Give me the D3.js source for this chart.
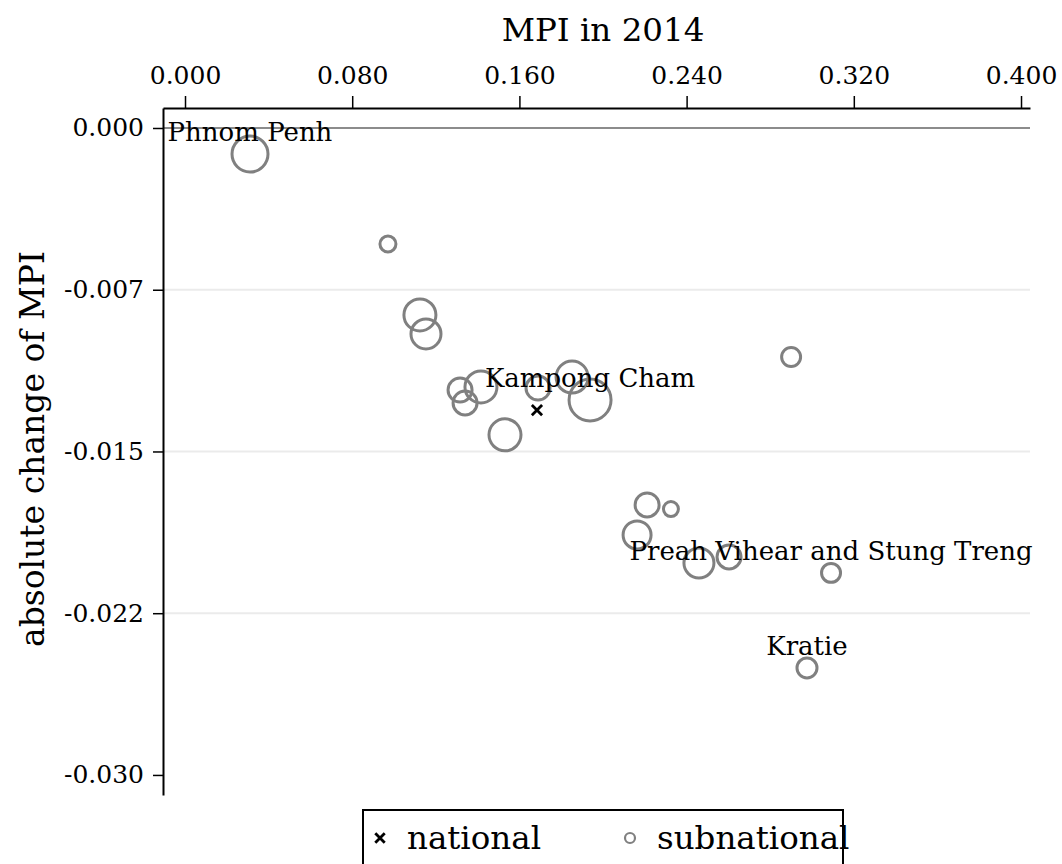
<!DOCTYPE html>
<html>
<head>
<meta charset="utf-8">
<script src="https://cdn.jsdelivr.net/npm/d3@7"></script>
<style>
  html, body { margin: 0; padding: 0; background: #fff; }
  svg text { font-family: "DejaVu Serif", serif; }
</style>
</head>
<body>
<svg id="chart" width="1062" height="864"></svg>
<script>
// ---- data ----
const regions = ["Phnom Penh", "R2", "R3", "R4", "R5", "R6", "R7", "R8", "R9", "Kampong Cham", "R11", "R12", "R13", "R14", "R15", "R16", "R17", "Preah Vihear and Stung Treng", "Kratie"];
const mpi2014 = [0.0311, 0.0971, 0.1124, 0.1153, 0.1316, 0.1340, 0.1416, 0.1689, 0.1852, 0.1938, 0.1531, 0.2211, 0.2325, 0.2163, 0.2459, 0.2603, 0.2900, 0.3091, 0.2976];
const mpiChange = [-0.00121, -0.00538, -0.00867, -0.00955, -0.01215, -0.01275, -0.01201, -0.01206, -0.01155, -0.01261, -0.01423, -0.01748, -0.01767, -0.01887, -0.02017, -0.01989, -0.01062, -0.02063, -0.02504];
const popWeight = [324, 64, 256, 225, 144, 144, 256, 144, 256, 441, 256, 144, 56, 196, 225, 144, 90, 90, 100];
const labelled = ["Phnom Penh", "Kampong Cham", "Preah Vihear and Stung Treng", "Kratie"];
const nationalMPI = [0.1684];
const nationalChange = [-0.01308];
const xTickValues = [0, 0.08, 0.16, 0.24, 0.32, 0.40];
const xTickLabels = ["0.000", "0.080", "0.160", "0.240", "0.320", "0.400"];
const yTickValues = [0, -0.0075, -0.015, -0.0225, -0.03];
const yTickLabels = ["0.000", "-0.007", "-0.015", "-0.022", "-0.030"];
const legendLabels = ["national", "subnational"];

const points = regions.map((name, i) => ({ name, x: mpi2014[i], y: mpiChange[i], w: popWeight[i] }));

const svg = d3.select("#chart");
const x = d3.scaleLinear().domain([-0.01053, 0.4043]).range([163, 1030]);
const y = d3.scaleLinear().domain([0.000927, -0.03093]).range([108, 795]);
const r = d3.scaleSqrt().domain([0, d3.max(popWeight)]).range([0, 21]);

// gridlines
svg.append("g").selectAll("line")
  .data(yTickValues.filter(v => v !== 0 && v !== -0.03))
  .join("line")
  .attr("x1", x.range()[0]).attr("x2", x.range()[1])
  .attr("y1", d => y(d)).attr("y2", d => y(d))
  .attr("stroke", "#ebebeb").attr("stroke-width", 2);

// zero line
svg.append("line")
  .attr("x1", x.range()[0]).attr("x2", x.range()[1])
  .attr("y1", y(0)).attr("y2", y(0))
  .attr("stroke", "#8c8c8c").attr("stroke-width", 2);

// top axis
const gx = svg.append("g").attr("transform", `translate(0,${y.range()[0]})`)
  .call(d3.axisTop(x).tickValues(xTickValues).tickFormat((d, i) => xTickLabels[i]).tickSize(12).tickSizeOuter(0).tickPadding(12));
gx.select(".domain").attr("stroke", "#000").attr("stroke-width", 2);
gx.selectAll(".tick line").attr("stroke", "#000").attr("stroke-width", 1.5);
gx.selectAll(".tick text").attr("font-family", "DejaVu Serif").attr("font-size", 25).attr("fill", "#000");

// left axis
const gy = svg.append("g").attr("transform", `translate(${x.range()[0]},0)`)
  .call(d3.axisLeft(y).tickValues(yTickValues).tickFormat((d, i) => yTickLabels[i]).tickSize(10).tickSizeOuter(0).tickPadding(9));
gy.select(".domain").attr("stroke", "#000").attr("stroke-width", 2);
gy.selectAll(".tick line").attr("stroke", "#000").attr("stroke-width", 1.5);
gy.selectAll(".tick text").attr("font-family", "DejaVu Serif").attr("font-size", 25).attr("fill", "#000");

// axis titles
svg.append("text").attr("x", 603).attr("y", 41).attr("text-anchor", "middle")
  .attr("font-size", 32.5).attr("fill", "#000").text("MPI in 2014");
svg.append("text").attr("transform", `translate(44,449) rotate(-90)`).attr("text-anchor", "middle")
  .attr("font-size", 33).attr("fill", "#000").text("absolute change of MPI");

// bubbles
svg.append("g").selectAll("circle").data(points).join("circle")
  .attr("cx", d => x(d.x)).attr("cy", d => y(d.y)).attr("r", d => r(d.w))
  .attr("fill", "none").attr("stroke", "#808080").attr("stroke-width", 3);

// national
svg.append("g").selectAll("path").data(nationalMPI).join("path")
  .attr("transform", (d, i) => `translate(${x(d)},${y(nationalChange[i])})`)
  .attr("d", d3.symbol(d3.symbolTimes, 70)())
  .attr("fill", "none").attr("stroke", "#000").attr("stroke-width", 2.8);

// labels
svg.append("g").selectAll("text").data(points.filter(p => labelled.includes(p.name))).join("text")
  .attr("x", d => x(d.x)).attr("y", d => y(d.y) - 13).attr("text-anchor", "middle")
  .attr("font-size", 26).attr("fill", "#000").text(d => d.name);

// legend
const lg = svg.append("g");
lg.append("rect").attr("x", 363).attr("y", 810).attr("width", 480).attr("height", 70)
  .attr("fill", "#fff").attr("stroke", "#000").attr("stroke-width", 2);
lg.append("path").attr("transform", "translate(380,838)")
  .attr("d", d3.symbol(d3.symbolTimes, 60)())
  .attr("fill", "none").attr("stroke", "#000").attr("stroke-width", 2.8);
lg.append("text").attr("x", 407).attr("y", 849).attr("font-size", 32.5).attr("fill", "#000").text(legendLabels[0]);
lg.append("circle").attr("cx", 630).attr("cy", 838).attr("r", 5)
  .attr("fill", "none").attr("stroke", "#808080").attr("stroke-width", 2.2);
lg.append("text").attr("x", 657).attr("y", 849).attr("font-size", 32.5).attr("fill", "#000").text(legendLabels[1]);
</script>
</body>
</html>
